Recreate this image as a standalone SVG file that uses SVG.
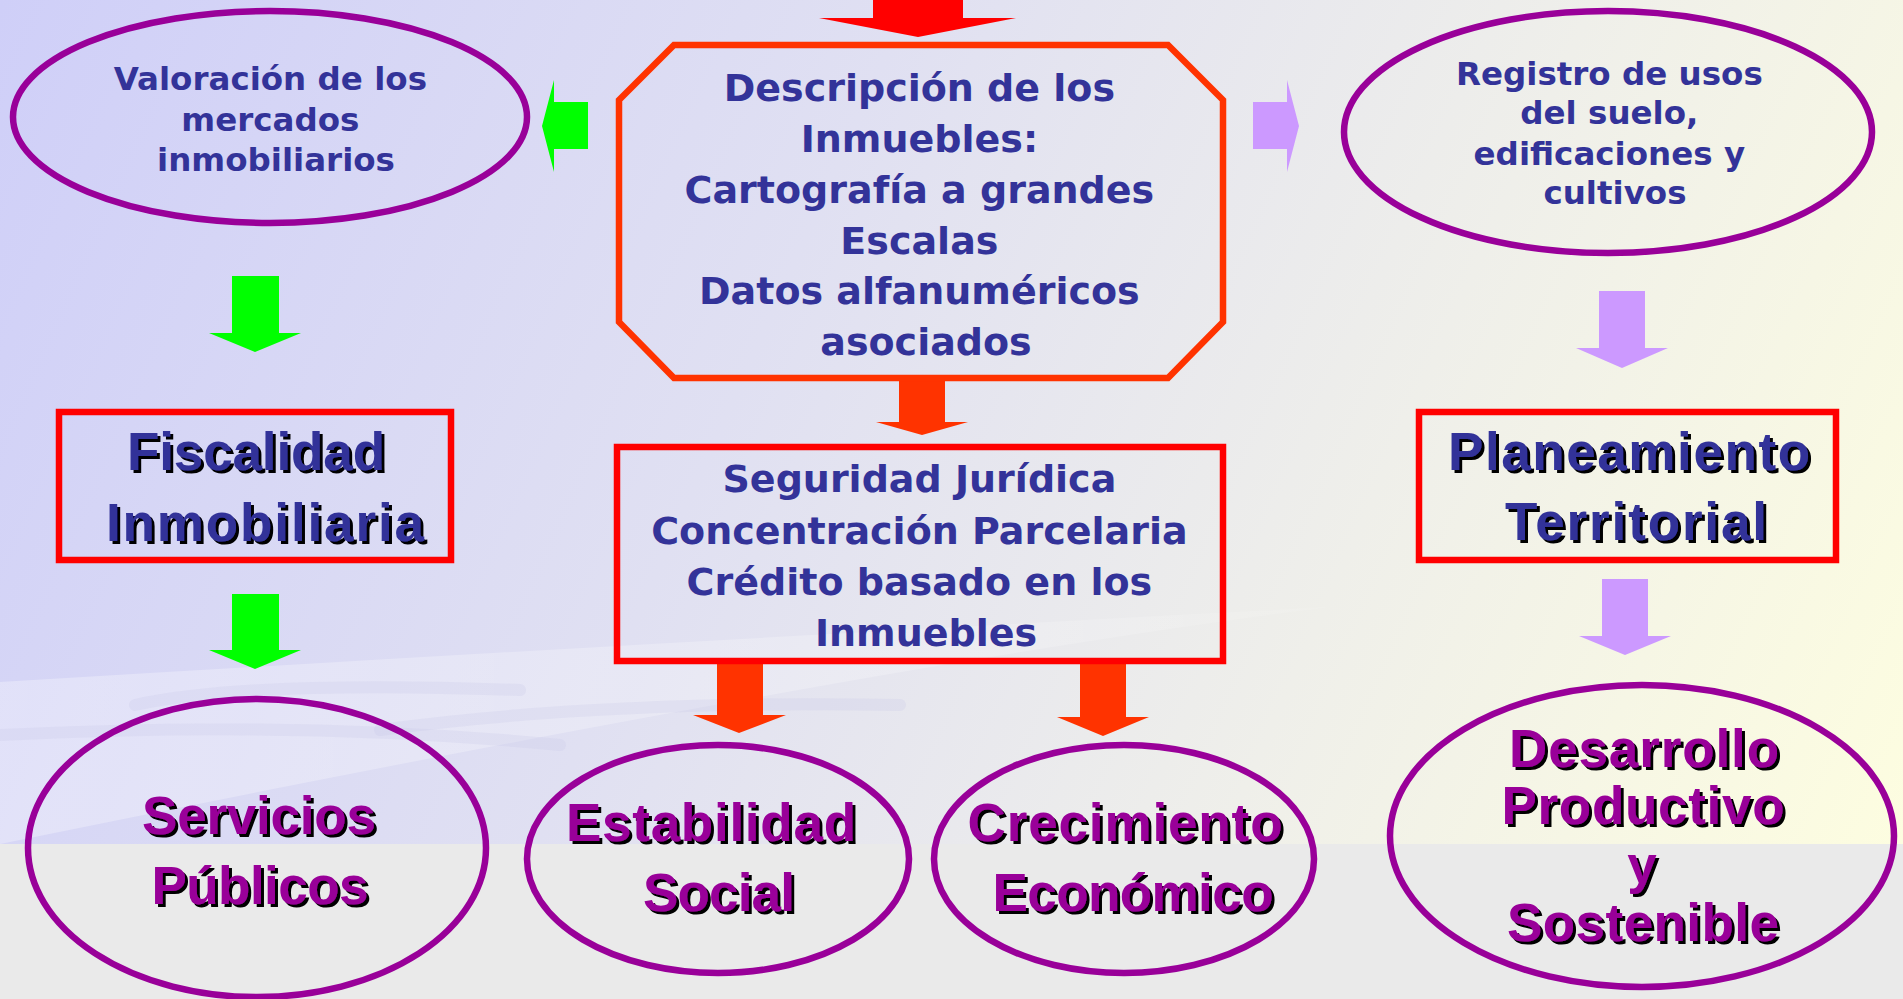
<svg xmlns="http://www.w3.org/2000/svg" width="1903" height="999" viewBox="0 0 1903 999">
  <defs>
    <linearGradient id="bg" gradientUnits="userSpaceOnUse" x1="0" y1="0" x2="1903" y2="844">
      <stop offset="0" stop-color="#cfcff8"/>
      <stop offset="0.4" stop-color="#e0e0f2"/>
      <stop offset="0.7" stop-color="#efefea"/>
      <stop offset="1" stop-color="#fdfde0"/>
    </linearGradient>
    <linearGradient id="swoosh" x1="0" y1="0" x2="1" y2="0">
      <stop offset="0" stop-color="#ffffff" stop-opacity="0.3"/>
      <stop offset="0.7" stop-color="#ffffff" stop-opacity="0.22"/>
      <stop offset="1" stop-color="#ffffff" stop-opacity="0.08"/>
    </linearGradient>
    <filter id="ts" x="-5%" y="-10%" width="115%" height="130%">
      <feOffset in="SourceAlpha" dx="3" dy="3" result="o"/>
      <feMerge><feMergeNode in="o"/><feMergeNode in="SourceGraphic"/></feMerge>
    </filter>
    <style>
      .ell { fill: none; stroke: #990099; stroke-width: 6.5; }
      .box { fill: none; stroke: #ff0000; stroke-width: 6.5; }
      .oct { fill: none; stroke: #ff3300; stroke-width: 6.5; stroke-linejoin: miter; }
      .sm { font-family: "DejaVu Sans", "Liberation Sans", sans-serif; font-weight: bold; fill: #333399; text-anchor: middle; }
      .big { font-family: "Liberation Sans", Arial, sans-serif; font-weight: bold; font-size: 53px; text-anchor: middle; filter: url(#ts); }
      .blue { fill: #333399; }
      .purp { fill: #990099; }
      .green { fill: #00ff00; }
      .lilac { fill: #cc99ff; }
      .red { fill: #ff0000; }
      .orange { fill: #ff3300; }
      .faint { fill: none; stroke: #c8c8e8; stroke-width: 12; opacity: 0.25; stroke-linecap: round; }
    </style>
  </defs>

  <!-- background -->
  <rect x="0" y="0" width="1903" height="999" fill="url(#bg)"/>
  <path d="M0,682 Q700,640 1330,607 Q900,660 0,844 Z" fill="url(#swoosh)"/>
  <path class="faint" d="M135,705 Q250,680 520,690"/>
  <path class="faint" d="M0,735 Q300,720 560,745"/>
  <path class="faint" d="M380,730 Q600,700 900,705"/>
  <rect x="0" y="844" width="1903" height="155" fill="#eaeaea"/>

  <!-- connectors -->
  <g id="connectors">
    <polygon class="red" points="873,0 963,0 963,18 1016,18 918,37 819,18 873,18"/>
    <polygon class="green" points="588,102 554,102 554,80 542,126 554,172 554,149 588,149"/>
    <polygon class="lilac" points="1253,102 1287,102 1287,80 1299,126 1287,172 1287,149 1253,149"/>
    <polygon class="green" points="232,276 279,276 279,333 301,333 255,352 209,333 232,333"/>
    <polygon class="green" points="232,594 279,594 279,650 301,650 255,669 209,650 232,650"/>
    <polygon class="orange" points="899,378 945,378 945,422 968,422 922,435 876,422 899,422"/>
    <polygon class="orange" points="717,662 763,662 763,715 786,715 739,733 693,715 717,715"/>
    <polygon class="orange" points="1080,662 1126,662 1126,717 1149,717 1103,736 1057,717 1080,717"/>
    <polygon class="lilac" points="1599,291 1645,291 1645,348 1668,348 1622,368 1576,348 1599,348"/>
    <polygon class="lilac" points="1602,579 1648,579 1648,636 1671,636 1625,655 1579,636 1602,636"/>
  </g>

  <g id="valoracion">
    <ellipse class="ell" cx="270" cy="117" rx="257" ry="106"/>
    <text class="sm" font-size="32.5">
      <tspan x="276" y="90">Valoración de los</tspan>
      <tspan x="276" y="131">mercados</tspan>
      <tspan x="276" y="171">inmobiliarios</tspan>
    </text>
  </g>

  <g id="descripcion">
    <polygon class="oct" points="674,45 1168,45 1223,100 1223,322 1168,378 674,378 619,322 619,100"/>
    <text class="sm" font-size="38">
      <tspan x="926" y="101">Descripción de los</tspan>
      <tspan x="926" y="152">Inmuebles:</tspan>
      <tspan x="926" y="203">Cartografía a grandes</tspan>
      <tspan x="926" y="254">Escalas</tspan>
      <tspan x="926" y="304">Datos alfanuméricos</tspan>
      <tspan x="926" y="355">asociados</tspan>
    </text>
  </g>

  <g id="registro">
    <ellipse class="ell" cx="1608" cy="132" rx="264" ry="121"/>
    <text class="sm" font-size="32.5">
      <tspan x="1615" y="85">Registro de usos</tspan>
      <tspan x="1615" y="124">del suelo,</tspan>
      <tspan x="1615" y="165">edificaciones y</tspan>
      <tspan x="1615" y="204">cultivos</tspan>
    </text>
  </g>

  <g id="fiscalidad">
    <rect class="box" x="59" y="412" width="392" height="148"/>
    <text class="big blue" x="256" y="470" textLength="258">Fiscalidad</text>
    <text class="big blue" x="265" y="541" textLength="318">Inmobiliaria</text>
  </g>

  <g id="seguridad">
    <rect class="box" x="617" y="447" width="606" height="214"/>
    <text class="sm" font-size="38">
      <tspan x="926" y="492">Seguridad Jurídica</tspan>
      <tspan x="926" y="544">Concentración Parcelaria</tspan>
      <tspan x="926" y="595">Crédito basado en los</tspan>
      <tspan x="926" y="646">Inmuebles</tspan>
    </text>
  </g>

  <g id="planeamiento">
    <rect class="box" x="1419" y="412" width="417" height="148"/>
    <text class="big blue" x="1629" y="470" textLength="362">Planeamiento</text>
    <text class="big blue" x="1636" y="540" textLength="262">Territorial</text>
  </g>

  <g id="servicios">
    <ellipse class="ell" cx="257" cy="848" rx="229" ry="149"/>
    <text class="big purp" x="259" y="834" textLength="234">Servicios</text>
    <text class="big purp" x="260" y="904" textLength="217">Públicos</text>
  </g>

  <g id="estabilidad">
    <ellipse class="ell" cx="718" cy="859" rx="191" ry="114"/>
    <text class="big purp" x="711" y="841" textLength="290">Estabilidad</text>
    <text class="big purp" x="719" y="911" textLength="152">Social</text>
  </g>

  <g id="crecimiento">
    <ellipse class="ell" cx="1124" cy="859" rx="190" ry="114"/>
    <text class="big purp" x="1125" y="841" textLength="315">Crecimiento</text>
    <text class="big purp" x="1133" y="911" textLength="281">Económico</text>
  </g>

  <g id="desarrollo">
    <ellipse class="ell" cx="1642" cy="836" rx="252" ry="151"/>
    <text class="big purp" x="1644" y="767" textLength="270">Desarrollo</text>
    <text class="big purp" x="1643" y="824" textLength="283">Productivo</text>
    <text class="big purp" x="1642" y="883">y</text>
    <text class="big purp" x="1643" y="941" textLength="272">Sostenible</text>
  </g>
</svg>
